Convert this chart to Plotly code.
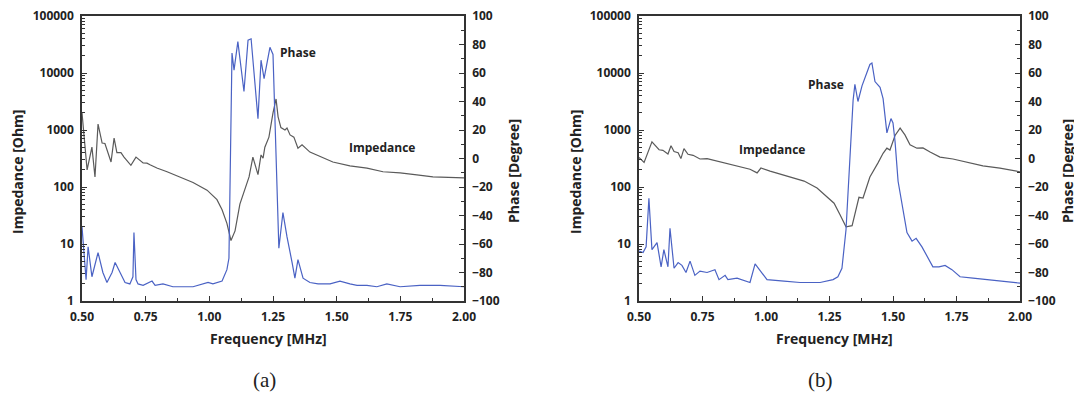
import plotly.graph_objects as go

# ---------------- data (a) ----------------
freq_imp_a = [0.500, 0.520, 0.539, 0.551, 0.563, 0.579, 0.590, 0.614, 0.626, 0.637, 0.653, 0.665,
              0.692, 0.712, 0.740, 0.755, 0.767, 0.794, 0.834, 0.885, 0.936, 0.991, 1.030, 1.050,
              1.069, 1.085, 1.101, 1.120, 1.148, 1.156, 1.171, 1.191, 1.203, 1.211, 1.218, 1.234,
              1.250, 1.262, 1.270, 1.281, 1.297, 1.305, 1.317, 1.332, 1.348, 1.364, 1.395, 1.434,
              1.485, 1.552, 1.619, 1.682, 1.749, 1.815, 1.878, 2.000]
imp_a = [2000, 200, 500, 150, 1270, 590, 580, 275, 720, 400, 400, 335,
         240, 335, 265, 262, 245, 215, 185, 150, 120, 88, 60, 40,
         23, 11.5, 17, 50, 110, 150, 335, 165, 365, 320, 500, 750,
         2000, 3500, 1700, 1100, 1000, 1080, 820, 750, 480, 550, 410, 340,
         275, 235, 215, 185, 177, 163, 150, 145]

freq_ph_a = [0.500, 0.516, 0.524, 0.539, 0.563, 0.582, 0.598, 0.618, 0.630, 0.641, 0.669, 0.688,
             0.700, 0.704, 0.712, 0.720, 0.740, 0.775, 0.787, 0.818, 0.857, 0.936, 0.995, 1.014,
             1.050, 1.069, 1.077, 1.089, 1.097, 1.112, 1.136, 1.152, 1.164, 1.191, 1.203, 1.215,
             1.238, 1.250, 1.273, 1.289, 1.305, 1.325, 1.336, 1.348, 1.368, 1.395, 1.427, 1.474,
             1.513, 1.552, 1.580, 1.619, 1.658, 1.697, 1.749, 1.827, 1.906, 2.000]
phase_a = [-48, -85, -62, -83, -66, -80, -87, -80, -73, -77, -87, -88,
           -83, -52, -85, -88, -89, -86, -89, -88, -90, -90, -87, -88,
           -86, -78, -70, 74, 62, 82, 47, 83, 84, 28, 69, 56,
           78, 73, -63, -38, -55, -73, -84, -71, -84, -87, -88, -88,
           -86, -88, -89, -89, -90, -88, -90, -89, -89, -90]

# ---------------- data (b) ----------------
freq_imp_b = [0.500, 0.520, 0.551, 0.579, 0.594, 0.614, 0.626, 0.638, 0.654, 0.665, 0.677, 0.693,
              0.713, 0.740, 0.768, 0.795, 0.835, 0.886, 0.937, 0.965, 0.980, 1.016, 1.083, 1.150,
              1.201, 1.240, 1.268, 1.291, 1.315, 1.339, 1.350, 1.366, 1.382, 1.409, 1.441, 1.461,
              1.476, 1.488, 1.508, 1.528, 1.547, 1.567, 1.594, 1.618, 1.646, 1.685, 1.736, 1.791,
              1.854, 1.921, 2.000]
imp_b = [330, 270, 620, 450, 440, 380, 530, 420, 400, 315, 470, 375,
         360, 310, 315, 295, 265, 232, 205, 177, 215, 190, 156, 127,
         96, 67, 52, 33, 20, 21, 35, 66, 64, 150, 265, 390,
         480, 445, 800, 1080, 820, 550, 480, 485, 410, 335, 310, 275,
         235, 215, 185]

freq_ph_b = [0.500, 0.516, 0.528, 0.539, 0.551, 0.571, 0.587, 0.598, 0.614, 0.622, 0.638, 0.654,
             0.669, 0.685, 0.701, 0.720, 0.740, 0.768, 0.799, 0.815, 0.839, 0.850, 0.886, 0.937,
             0.957, 0.980, 1.004, 1.071, 1.134, 1.213, 1.264, 1.283, 1.299, 1.315, 1.343, 1.350,
             1.362, 1.378, 1.398, 1.409, 1.417, 1.429, 1.449, 1.461, 1.476, 1.492, 1.500, 1.508,
             1.520, 1.539, 1.555, 1.575, 1.591, 1.614, 1.638, 1.657, 1.681, 1.705, 1.732, 1.764,
             1.815, 1.870, 1.921, 2.000]
phase_b = [-65, -66, -62, -28, -64, -59, -76, -64, -76, -49, -77, -73,
           -75, -80, -72, -82, -79, -80, -78, -85, -82, -85, -84, -87,
           -74, -79, -85, -86, -87, -87, -85, -83, -77, -50, 41, 52,
           40, 51, 61, 66, 67, 54, 50, 42, 18, 28, 25, 12,
           -16, -37, -52, -58, -56, -62, -70, -76, -76, -75, -78, -83,
           -84, -85, -86, -87.5]

x_ticks = [0.50, 0.75, 1.00, 1.25, 1.50, 1.75, 2.00]
x_ticktext = ["0.50", "0.75", "1.00", "1.25", "1.50", "1.75", "2.00"]
imp_ticks = [1, 10, 100, 1000, 10000, 100000]
imp_ticktext = ["1", "10", "100", "1000", "10000", "100000"]
phase_ticks = [-100, -80, -60, -40, -20, 0, 20, 40, 60, 80, 100]

# ---------------- styling ----------------
OFF = 8  # page body margin in the browser
W, H = 1082 - OFF, 393 - OFF
GRAY = "#5a5a5a"
BLUE = "#4a62c4"
AX = "#333333"
FONT = "Open Sans"
tickfont = dict(family=FONT, size=12, color="#222222", weight="bold")


def fx(px):
    return (px - OFF) / W


def fy(py):
    return (H - (py - OFF)) / H


ydom = [fy(301), fy(16)]
xdom_a = [fx(82), fx(464)]
xdom_b = [fx(639), fx(1020)]

minor_log = [m * 10 ** e for e in range(0, 5) for m in range(2, 10)]

fig = go.Figure()
fig.add_trace(go.Scatter(x=freq_imp_a, y=imp_a, mode="lines", line=dict(color=GRAY, width=1.2),
                         xaxis="x", yaxis="y", showlegend=False))
fig.add_trace(go.Scatter(x=freq_ph_a, y=phase_a, mode="lines", line=dict(color=BLUE, width=1.2),
                         xaxis="x", yaxis="y2", showlegend=False))
fig.add_trace(go.Scatter(x=freq_imp_b, y=imp_b, mode="lines", line=dict(color=GRAY, width=1.2),
                         xaxis="x2", yaxis="y3", showlegend=False))
fig.add_trace(go.Scatter(x=freq_ph_b, y=phase_b, mode="lines", line=dict(color=BLUE, width=1.2),
                         xaxis="x2", yaxis="y4", showlegend=False))


def xax(dom, anchor):
    return dict(domain=dom, anchor=anchor, range=[0.5, 2.0], tickmode="array", tickvals=x_ticks,
                ticktext=x_ticktext, ticks="inside", ticklen=5, tickwidth=1.2, tickcolor=AX,
                minor=dict(ticks="inside", ticklen=3, tickcolor=AX, dtick=0.125, tick0=0.5, showgrid=False),
                showline=True, linecolor=AX, linewidth=1.5, mirror=True, showgrid=False,
                zeroline=False, tickfont=tickfont, ticklabelstandoff=4, automargin=False,
                ticklabeloverflow="allow")


def ylog(anchor):
    return dict(domain=ydom, anchor=anchor, type="log", range=[0, 5], tickmode="array",
                tickvals=imp_ticks, ticktext=imp_ticktext, ticks="inside", ticklen=5, tickwidth=1.2,
                tickcolor=AX, minor=dict(ticks="inside", ticklen=3, tickcolor=AX, tickmode="array",
                                         tickvals=minor_log, showgrid=False),
                showline=True, linecolor=AX, linewidth=1.5, showgrid=False, zeroline=False,
                tickfont=tickfont, ticklabelstandoff=4, automargin=False, ticklabeloverflow="allow")


def yph(anchor, over):
    return dict(domain=ydom, anchor=anchor, overlaying=over, side="right", range=[-100, 100],
                tickmode="array", tickvals=phase_ticks, ticks="inside", ticklen=5, tickwidth=1.2,
                tickcolor=AX, minor=dict(ticks="inside", ticklen=3, tickcolor=AX, dtick=10, tick0=0,
                                         showgrid=False),
                showline=True, linecolor=AX, linewidth=1.5, showgrid=False, zeroline=False,
                tickfont=tickfont, ticklabelstandoff=4, automargin=False, ticklabeloverflow="allow")


fig.update_layout(
    template="none",
    width=W, height=H, margin=dict(l=0, r=0, t=0, b=0, autoexpand=False),
    paper_bgcolor="white", plot_bgcolor="white",
    xaxis=xax(xdom_a, "y"), yaxis=ylog("x"), yaxis2=yph("x", "y"),
    xaxis2=xax(xdom_b, "y3"), yaxis3=ylog("x2"), yaxis4=yph("x2", "y3"),
)

titlefont = dict(family=FONT, size=14, color="#222222", weight="bold")
labelfont = dict(family=FONT, size=12, color="#222222", weight="bold")


def ann(text, px, py, font, angle=0):
    fig.add_annotation(text=text, x=fx(px), y=fy(py), xref="paper", yref="paper",
                       showarrow=False, font=font, textangle=angle, xanchor="center", yanchor="middle")


# axis titles
ann("Impedance [Ohm]", 17, 172, titlefont, -90)
ann("Phase [Degree]", 513, 171, titlefont, -90)
ann("Frequency [MHz]", 268, 338, titlefont)
ann("Impedance [Ohm]", 575, 172, titlefont, -90)
ann("Phase [Degree]", 1067, 171, titlefont, -90)
ann("Frequency [MHz]", 834, 338, titlefont)

# inline labels
ann("Phase", 298, 52, labelfont)
ann("Impedance", 382, 147, labelfont)
ann("Phase", 826, 85, labelfont)
ann("Impedance", 772, 149, labelfont)

# panel labels
panelfont = dict(family="Liberation Serif", size=21, color="#222222")
ann("(a)", 264, 380, panelfont)
ann("(b)", 820, 380, panelfont)

fig.write_html("out.html")
